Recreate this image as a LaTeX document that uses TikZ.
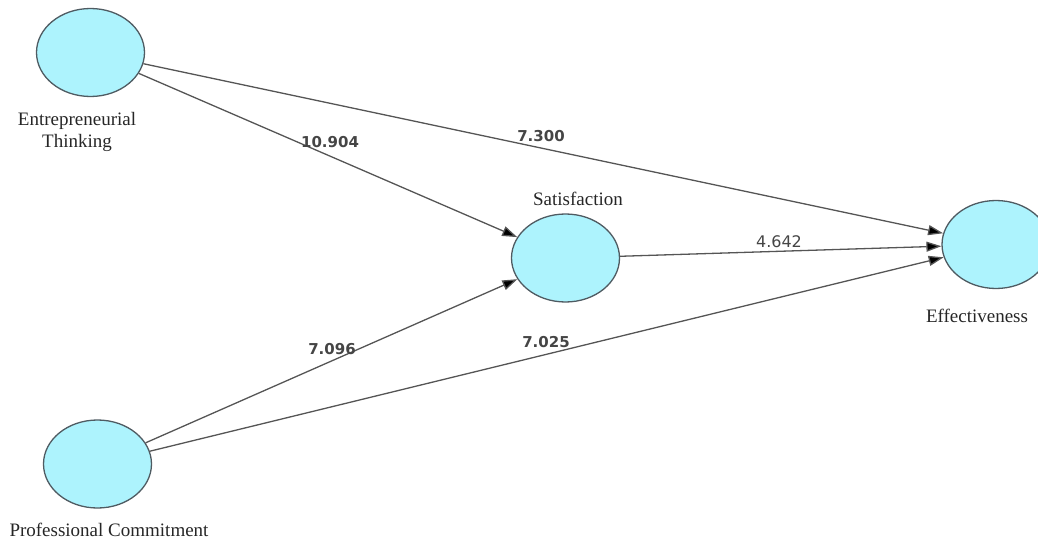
\documentclass[tikz,border=0pt]{standalone}
\usepackage{fontspec}
\setmainfont{Liberation Serif}
\newfontfamily\numfont{DejaVu Sans}
\usepackage{tikz}
\usetikzlibrary{shapes.geometric,arrows.meta}

\definecolor{lvfill}{HTML}{ADF3FD}
\definecolor{lvdraw}{HTML}{4F5B62}
\definecolor{pathgray}{HTML}{555555}
\definecolor{numgray}{HTML}{454545}

\tikzset{
	latent/.style={ellipse, draw=lvdraw, fill=lvfill, line width=1.3pt, minimum width=108pt, minimum height=88pt, inner sep=0pt},
	lvname/.style={font=\fontsize{19}{22}\selectfont, text=black!85, inner sep=0pt, align=center},
	coef/.style={font=\numfont\bfseries\fontsize{15}{18}\selectfont, text=numgray, inner sep=0pt},
	coefplain/.style={font=\numfont\fontsize{16}{18}\selectfont, text=numgray, inner sep=0pt},
	relpath/.style={draw=pathgray, line width=1.3pt, -{Triangle[length=15pt,width=10pt]}}
}

\begin{document}
\begin{tikzpicture}[x=1pt,y=-1pt]
	\clip (0,0) rectangle (1038,540);

	\node[latent] (et) at (90.5,52.5)	{};
	\node[latent] (sat) at (565.5,258)	{};
	\node[latent] (eff) at (996,244.5)	{};
	\node[latent] (pc) at (97.5,464)	{};

	\node[lvname] (etname) at (77,132)	{Entrepreneurial\\Thinking};
	\node[lvname] (satname) at (578,199)	{Satisfaction};
	\node[lvname] (effname) at (977,316)	{Effectiveness};
	\node[lvname] (pcname) at (109,530)	{Professional Commitment};

	\path [relpath] (et) edge (sat);
	\path [relpath] (et) edge (eff);
	\path [relpath] (sat) edge (eff);
	\path [relpath] (pc) edge (sat);
	\path [relpath] (pc) edge (eff);

	\node[coef] (etsat) at (330,142)	{10.904};
	\node[coef] (eteff) at (541,136)	{7.300};
	\node[coefplain] (sateff) at (779,242)	{4.642};
	\node[coef] (pcsat) at (332,349)	{7.096};
	\node[coef] (pceff) at (546,342)	{7.025};
\end{tikzpicture}
\end{document}
